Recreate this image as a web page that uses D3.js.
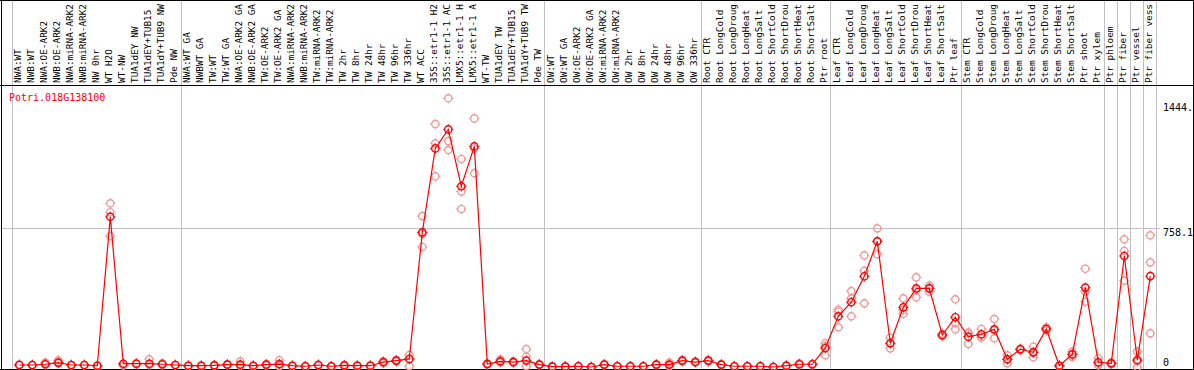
<!DOCTYPE html>
<html>
<head>
<meta charset="utf-8">
<script src="https://cdn.jsdelivr.net/npm/d3@7/dist/d3.min.js"></script>
<style>
  body { margin: 0; background: #fff; }
  svg { display: block; }
  text { font-family: "DejaVu Sans Mono", "Liberation Mono", monospace; }
</style>
</head>
<body>
<div id="chart"></div>
<script>
var geneName = 'Potri.018G138100';

// column labels as they show in the header (long ones are cut at 14 chars)
var labels = [
  'NWA:WT', 'NWB:WT', 'NWA:OE-ARK2', 'NWB:OE-ARK2', 'NWA:miRNA-ARK2', 'NWB:miRNA-ARK2',
  'NW 0hr', 'WT H2O', 'WT-NW', 'TUA1dEY NW', 'TUA1dEY+TUB15', 'TUA1dY+TUB9 NW', 'Pde NW',
  'NWA:WT GA', 'NWBWT GA', 'TW:WT', 'TW:WT GA', 'NWA:OE-ARK2 GA', 'NWB:OE-ARK2 GA',
  'TW:OE-ARK2', 'TW:OE-ARK2 GA', 'NWA:miRNA-ARK2', 'NWB:miRNA-ARK2', 'TW:miRNA-ARK2',
  'TW:miRNA-ARK2', 'TW 2hr', 'TW 8hr', 'TW 24hr', 'TW 48hr', 'TW 96hr', 'TW 336hr', 'WT ACC',
  '35S::etr1-1 H2', '35S::etr1-1 AC', 'LMX5::etr1-1 H', 'LMX5::etr1-1 A', 'WT-TW',
  'TUA1dEY TW', 'TUA1dEY+TUB15', 'TUA1dY+TUB9 TW', 'Pde TW',
  'OW:WT', 'OW:WT GA', 'OW:OE-ARK2', 'OW:OE-ARK2 GA', 'OW:miRNA-ARK2', 'OW:miRNA-ARK2',
  'OW 2hr', 'OW 8hr', 'OW 24hr', 'OW 48hr', 'OW 96hr', 'OW 336hr',
  'Root CTR', 'Root LongCold', 'Root LongDroug', 'Root LongHeat', 'Root LongSalt',
  'Root ShortCold', 'Root ShortDrou', 'Root ShortHeat', 'Root ShortSalt', 'Ptr root',
  'Leaf CTR', 'Leaf LongCold', 'Leaf LongDroug', 'Leaf LongHeat', 'Leaf LongSalt',
  'Leaf ShortCold', 'Leaf ShortDrou', 'Leaf ShortHeat', 'Leaf ShortSalt', 'Ptr leaf',
  'Stem CTR', 'Stem LongCold', 'Stem LongDroug', 'Stem LongHeat', 'Stem LongSalt',
  'Stem ShortCold', 'Stem ShortDrou', 'Stem ShortHeat', 'Stem ShortSalt', 'Ptr shoot',
  'Ptr xylem', 'Ptr phloem', 'Ptr fiber', 'Ptr vessel', 'Ptr fiber vess'
];

var means = [
  11, 11, 15, 24, 11, 11, 7, 821, 18, 18, 18, 15, 11,
  7, 7, 9, 13, 13, 7, 13, 16, 7, 4, 11, 4, 9, 7, 7, 27, 35, 44, 736,
  1195, 1299, 988, 1206, 16, 31, 27, 35, 13,
  2, 2, 4, 0, 13, 4, 4, 4, 13, 13, 35, 27,
  35, 13, 4, 4, 4, 0, 7, 15, 15, 104,
  277, 354, 496, 687, 130, 326, 430, 430, 175, 272,
  166, 179, 206, 42, 97, 80, 208, 7, 69, 434,
  26, 20, 607, 38, 497
];

var replicates = [
  [11, 11, 13], [11, 11, 11], [15, 24, 13], [24, 37, 20], [11, 11, 9], [11, 11, 11],
  [7, 5, 7], [895, 846, 716], [18, 15, 9], [18, 15, 20], [42, 15, 13], [15, 20, 11], [11, 11, 11],
  [7, 5, 7], [7, 7, 5], [9, 11, 7], [13, 15, 11], [31, 9, 7], [7, 7, 5], [13, 15, 9],
  [37, 13, 5], [7, 5, 7], [4, 4, 2], [11, 13, 9], [4, 4, 2], [9, 11, 7], [7, 5, 9],
  [7, 9, 5], [27, 20, 30], [35, 30, 38], [66, 44, 5], [825, 656, 727],
  [1328, 1223, 1042], [1469, 1235, 1186], [1137, 960, 864], [1359, 1195, 1059],
  [16, 13, 20], [42, 31, 25], [27, 22, 31], [98, 56, 5], [13, 11, 15],
  [2, 2, 1], [2, 2, 1], [4, 4, 2], [0, 1, 0], [13, 15, 11], [4, 4, 2], [4, 4, 2],
  [4, 4, 2], [13, 15, 11], [25, 13, 5], [35, 38, 30], [27, 30, 25],
  [35, 38, 30], [13, 15, 11], [4, 4, 2], [4, 4, 2], [4, 4, 2], [0, 1, 0], [7, 9, 5],
  [15, 20, 11], [15, 18, 13], [130, 64, 115],
  [313, 302, 217], [415, 375, 277], [610, 526, 348], [758, 616, 687], [160, 102, 130],
  [375, 312, 291], [490, 381, 420], [412, 430, 445], [182, 175, 168], [370, 206, 240],
  [184, 126, 190], [208, 160, 170], [262, 157, 200], [64, 42, 20], [97, 100, 92],
  [111, 53, 80], [217, 208, 200], [7, 5, 9], [84, 69, 55], [537, 412, 357],
  [48, 20, 10], [20, 15, 25], [698, 634, 472], [84, 0, 30], [720, 572, 184]
];

// column index after which a group separator is drawn
var separators = [0, 13, 41, 53, 63, 73, 84, 85, 86, 87, 88];

var yTickValues = [1444.3, 758.1, 0];
var yTickLabels = ['1444.', '758.1', '0'];

(function(d3) {
  'use strict';
  var width = 1194;
  var height = 370;
  var headerBottom = 85;
  var plotBottom = 369;

  var svg = d3.select('#chart')
    .append('svg')
    .attr('width', width)
    .attr('height', height);

  var x = d3.scaleLinear()
    .domain([1, labels.length])
    .range([19.3, 1150.3]);

  var y = d3.scaleLinear()
    .domain([0, 1444.3])
    .range([367, 102.8]);

  // vertical group separators (full height, header included)
  svg.selectAll('.sep')
    .data(separators)
    .enter()
    .append('line')
    .attr('class', 'sep')
    .attr('x1', function(d) { return Math.round(x(d + 0.4)) + 0.5; })
    .attr('x2', function(d) { return Math.round(x(d + 0.4)) + 0.5; })
    .attr('y1', 0)
    .attr('y2', plotBottom)
    .attr('stroke', '#c0c0c0')
    .attr('shape-rendering', 'crispEdges');

  // horizontal grid line at the middle tick
  svg.append('line')
    .attr('x1', 1)
    .attr('x2', 1160)
    .attr('y1', Math.round(y(yTickValues[1])) + 0.5)
    .attr('y2', Math.round(y(yTickValues[1])) + 0.5)
    .attr('stroke', '#c0c0c0')
    .attr('shape-rendering', 'crispEdges');

  // frame
  var frame = svg.append('g')
    .attr('stroke', '#000')
    .attr('shape-rendering', 'crispEdges');
  frame.append('line').attr('x1', 0).attr('x2', width).attr('y1', 0.5).attr('y2', 0.5);
  frame.append('line').attr('x1', 0).attr('x2', width).attr('y1', headerBottom + 0.5).attr('y2', headerBottom + 0.5);
  frame.append('line').attr('x1', 0).attr('x2', width).attr('y1', plotBottom + 0.5).attr('y2', plotBottom + 0.5);
  frame.append('line').attr('x1', 1.5).attr('x2', 1.5).attr('y1', 0).attr('y2', height);
  frame.append('line').attr('x1', 1193.5).attr('x2', 1193.5).attr('y1', 0).attr('y2', height);

  // column labels, rotated, reading upward from the header line
  svg.selectAll('.collabel')
    .data(labels)
    .enter()
    .append('text')
    .attr('class', 'collabel')
    .attr('transform', function(d, i) {
      return 'translate(' + (x(i + 1) + 1.6) + ',' + (headerBottom - 2) + ') rotate(-90)';
    })
    .attr('font-size', '9.4px')
    .attr('fill', '#000')
    .text(function(d) { return d; });

  // gene name
  svg.append('text')
    .attr('x', 9)
    .attr('y', 101)
    .attr('font-size', '10px')
    .attr('fill', 'red')
    .text(geneName);

  // y tick labels on the right
  svg.selectAll('.ytick')
    .data(yTickValues)
    .enter()
    .append('text')
    .attr('class', 'ytick')
    .attr('x', 1163)
    .attr('y', function(d, i) { return i === 2 ? y(d) - 1 : y(d) + 8; })
    .attr('font-size', '10px')
    .attr('fill', '#000')
    .text(function(d, i) { return yTickLabels[i]; });

  function marker(g, color) {
    g.append('circle')
      .attr('r', 3.6)
      .attr('fill', 'none')
      .attr('stroke', color)
      .attr('stroke-width', 1.4);
    g.append('path')
      .attr('d', 'M0,-5.2V-3.6M0,3.6V5.2M-5.2,0H-3.6M3.6,0H5.2')
      .attr('stroke', color)
      .attr('stroke-width', 1);
  }

  // replicate points
  var repData = [];
  replicates.forEach(function(r, i) {
    r.forEach(function(v) { repData.push({ i: i + 1, v: v }); });
  });
  svg.selectAll('.rep')
    .data(repData)
    .enter()
    .append('g')
    .attr('class', 'rep')
    .attr('transform', function(d) { return 'translate(' + x(d.i) + ',' + y(d.v) + ')'; })
    .each(function() { marker(d3.select(this), '#f09a9a'); });

  // mean line
  var line = d3.line()
    .x(function(d, i) { return x(i + 1); })
    .y(function(d) { return y(d); });
  svg.append('path')
    .datum(means)
    .attr('d', line)
    .attr('fill', 'none')
    .attr('stroke', 'red')
    .attr('stroke-width', 1.2);

  // mean points
  svg.selectAll('.mean')
    .data(means)
    .enter()
    .append('g')
    .attr('class', 'mean')
    .attr('transform', function(d, i) { return 'translate(' + x(i + 1) + ',' + y(d) + ')'; })
    .each(function() { marker(d3.select(this), 'red'); });
})(window.d3);
</script>
</body>
</html>
